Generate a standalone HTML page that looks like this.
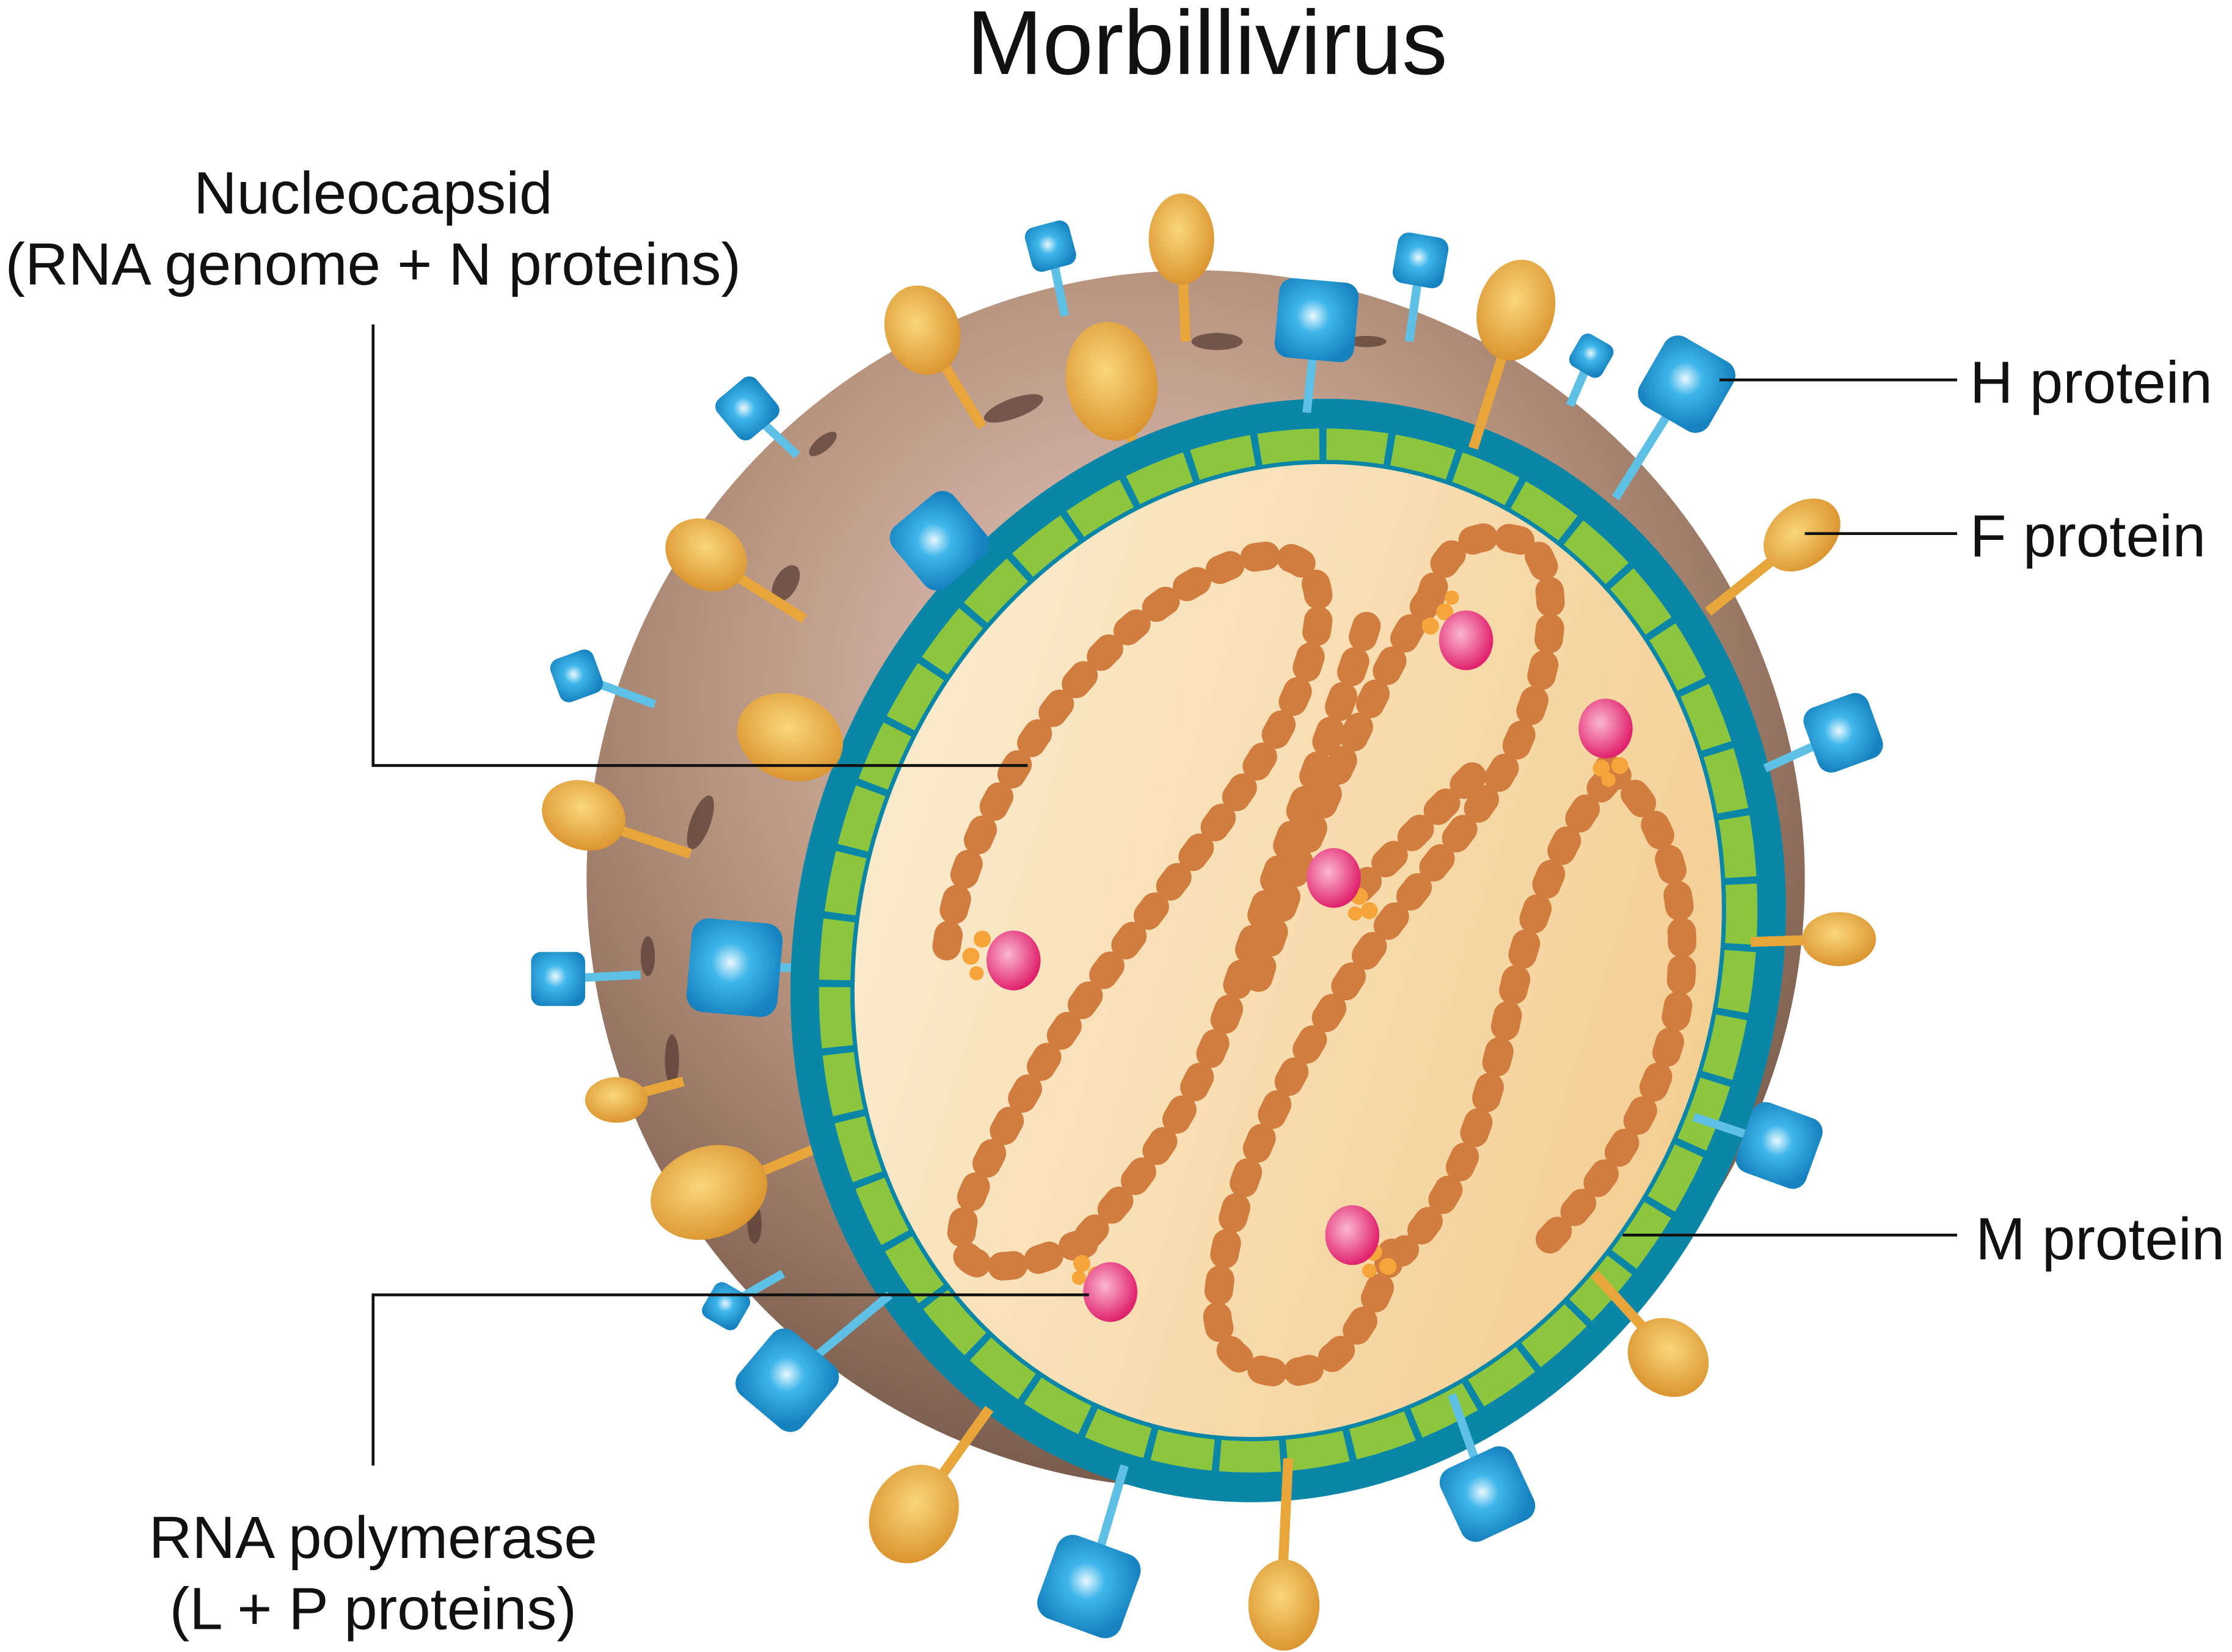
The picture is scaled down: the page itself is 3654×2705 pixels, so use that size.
<!DOCTYPE html>
<html><head><meta charset="utf-8"><style>html,body{margin:0;padding:0;background:#fff}svg{display:block}</style></head><body>
<svg width="3654" height="2705" viewBox="0 0 1568 1161" xmlns="http://www.w3.org/2000/svg" font-family="'Liberation Sans', sans-serif">
<defs>
<radialGradient id="brown" cx="0.45" cy="0.35" r="0.7"><stop offset="0" stop-color="#e2c9c4"/><stop offset="0.5" stop-color="#b8947e"/><stop offset="1" stop-color="#6e5244"/></radialGradient>
<linearGradient id="cream" x1="0" y1="0" x2="1" y2="0"><stop offset="0" stop-color="#fbeacb"/><stop offset="1" stop-color="#f4cf94"/></linearGradient>
<radialGradient id="blue" cx="0.45" cy="0.45" r="0.6"><stop offset="0" stop-color="#e8f8ff"/><stop offset="0.35" stop-color="#3fb6ea"/><stop offset="1" stop-color="#1683c0"/></radialGradient>
<radialGradient id="orange" cx="0.45" cy="0.4" r="0.65"><stop offset="0" stop-color="#f9d77a"/><stop offset="1" stop-color="#d9902a"/></radialGradient>
<radialGradient id="pink" cx="0.4" cy="0.4" r="0.6"><stop offset="0" stop-color="#fbb7cf"/><stop offset="1" stop-color="#e0236e"/></radialGradient>
</defs>
<text x="848" y="52" font-size="64" text-anchor="middle" fill="#111">Morbillivirus</text>

<g stroke="#e8a63a" stroke-width="7">
<line x1="833" y1="240" x2="830" y2="172"/><line x1="690" y1="300" x2="650" y2="235"/><line x1="1035" y1="315" x2="1065" y2="220"/>
</g>
<g stroke="#5fc0e6" stroke-width="6">
<line x1="748" y1="222" x2="738" y2="173"/><line x1="990" y1="240" x2="998" y2="183"/><line x1="918" y1="290" x2="925" y2="225"/><line x1="1103" y1="285" x2="1118" y2="250"/>
</g>

<circle cx="840" cy="618" r="428" fill="url(#brown)"/>
<g fill="#5a3e34" opacity="0.75">
<ellipse cx="712" cy="287" rx="22" ry="7" transform="rotate(-20 712 287)"/><ellipse cx="855" cy="240" rx="18" ry="6"/><ellipse cx="578" cy="312" rx="12" ry="5" transform="rotate(-40 578 312)"/><ellipse cx="552" cy="410" rx="8" ry="14" transform="rotate(30 552 410)"/><ellipse cx="492" cy="578" rx="7" ry="20" transform="rotate(20 492 578)"/><ellipse cx="455" cy="672" rx="5" ry="14"/><ellipse cx="472" cy="745" rx="5" ry="18"/><ellipse cx="530" cy="860" rx="5" ry="14"/><ellipse cx="790" cy="330" rx="14" ry="5"/><ellipse cx="960" cy="240" rx="14" ry="4"/>
</g>
<g stroke="#e8a63a" stroke-width="7">
<line x1="815" y1="360" x2="780" y2="270"/><line x1="565" y1="435" x2="497" y2="392"/><line x1="640" y1="555" x2="555" y2="520"/><line x1="485" y1="600" x2="410" y2="575"/><line x1="480" y1="760" x2="435" y2="772"/><line x1="590" y1="800" x2="500" y2="838"/><line x1="690" y1="300" x2="650" y2="235"/>
</g>
<g stroke="#5fc0e6" stroke-width="6">
<line x1="715" y1="440" x2="660" y2="380"/><line x1="460" y1="495" x2="405" y2="475"/><line x1="590" y1="680" x2="515" y2="680"/><line x1="450" y1="685" x2="392" y2="688"/><line x1="560" y1="320" x2="525" y2="287"/><line x1="550" y1="895" x2="510" y2="918"/>
</g>

<g transform="rotate(18 905 668)">
<ellipse cx="905" cy="668" rx="345" ry="392" fill="#0b86a6"/>
<ellipse cx="905" cy="668" rx="314" ry="360" fill="none" stroke="#8cc63f" stroke-width="22" stroke-dasharray="42 5"/>
<ellipse cx="905" cy="668" rx="300" ry="346" fill="url(#cream)"/>
</g>

<g stroke="#e8a63a" stroke-width="7">
<line x1="1200" y1="430" x2="1265" y2="378"/><line x1="1230" y1="662" x2="1290" y2="660"/><line x1="1120" y1="895" x2="1170" y2="950"/><line x1="695" y1="990" x2="645" y2="1060"/><line x1="905" y1="1025" x2="900" y2="1130"/><line x1="1035" y1="315" x2="1065" y2="220"/><line x1="833" y1="240" x2="830" y2="172"/>
</g>
<g stroke="#5fc0e6" stroke-width="6">
<line x1="1135" y1="350" x2="1185" y2="270"/><line x1="1240" y1="540" x2="1295" y2="515"/><line x1="1190" y1="785" x2="1250" y2="805"/><line x1="625" y1="910" x2="553" y2="970"/><line x1="1020" y1="980" x2="1045" y2="1050"/><line x1="790" y1="1030" x2="765" y2="1115"/><line x1="918" y1="290" x2="925" y2="225"/><line x1="990" y1="240" x2="998" y2="183"/><line x1="748" y1="222" x2="738" y2="173"/><line x1="1103" y1="285" x2="1118" y2="250"/>
</g>

<g fill="url(#blue)">
<rect x="722" y="157" width="32" height="32" rx="7" transform="rotate(-15 738 173)"/>
<rect x="980" y="165" width="36" height="36" rx="8" transform="rotate(10 998 183)"/>
<rect x="897" y="197" width="56" height="56" rx="10" transform="rotate(5 925 225)"/>
<rect x="1105" y="237" width="26" height="26" rx="6" transform="rotate(30 1118 250)"/>
<rect x="1157" y="242" width="56" height="56" rx="11" transform="rotate(30 1185 270)"/>
<rect x="507" y="269" width="36" height="36" rx="7" transform="rotate(-40 525 287)"/>
<rect x="632" y="352" width="56" height="56" rx="11" transform="rotate(-40 660 380)"/>
<rect x="389" y="459" width="32" height="32" rx="7" transform="rotate(-20 405 475)"/>
<rect x="484" y="647" width="64" height="66" rx="12" transform="rotate(5 515 680)"/>
<rect x="373" y="669" width="38" height="38" rx="7"/>
<rect x="1271" y="491" width="48" height="48" rx="10" transform="rotate(-20 1295 515)"/>
<rect x="1224" y="779" width="52" height="52" rx="10" transform="rotate(20 1250 805)"/>
<rect x="496" y="904" width="28" height="28" rx="6" transform="rotate(30 510 918)"/>
<rect x="524" y="941" width="58" height="58" rx="11" transform="rotate(40 553 970)"/>
<rect x="1017" y="1022" width="56" height="56" rx="11" transform="rotate(-25 1045 1050)"/>
<rect x="734" y="1084" width="62" height="62" rx="12" transform="rotate(20 765 1115)"/>
</g>
<g fill="url(#orange)">
<ellipse cx="830" cy="168" rx="23" ry="32"/>
<ellipse cx="648" cy="232" rx="26" ry="32" transform="rotate(-20 648 232)"/>
<ellipse cx="781" cy="268" rx="32" ry="42" transform="rotate(-10 781 268)"/>
<ellipse cx="1065" cy="218" rx="27" ry="36" transform="rotate(15 1065 218)"/>
<ellipse cx="496" cy="390" rx="30" ry="24" transform="rotate(30 496 390)"/>
<ellipse cx="555" cy="518" rx="38" ry="30" transform="rotate(20 555 518)"/>
<ellipse cx="410" cy="573" rx="30" ry="24" transform="rotate(20 410 573)"/>
<ellipse cx="433" cy="773" rx="22" ry="16"/>
<ellipse cx="498" cy="838" rx="42" ry="32" transform="rotate(-20 498 838)"/>
<ellipse cx="1266" cy="376" rx="30" ry="22" transform="rotate(-40 1266 376)"/>
<ellipse cx="1292" cy="660" rx="26" ry="19"/>
<ellipse cx="1172" cy="954" rx="30" ry="26" transform="rotate(40 1172 954)"/>
<ellipse cx="642" cy="1064" rx="30" ry="36" transform="rotate(30 642 1064)"/>
<ellipse cx="902" cy="1128" rx="25" ry="32"/>
</g>

<g fill="none" stroke="#d17d3f" stroke-width="20" stroke-linecap="round" stroke-dasharray="8 18">
<path d="M665 665 C680 560 780 420 880 392 C940 380 935 440 905 500 C865 580 785 660 725 760 C685 830 650 890 700 890 C735 890 755 870 765 875"/>
<path d="M960 440 C935 520 900 600 870 690 C840 780 800 830 765 868"/>
<path d="M1005 420 C1015 380 1040 370 1075 382 C1100 410 1090 470 1065 525 C1035 585 975 640 935 710 C890 780 860 850 855 920 C855 965 905 975 935 955 C960 935 972 900 978 880"/>
<path d="M1005 420 C990 440 975 470 960 500 C930 560 905 620 880 700"/>
<path d="M1130 540 C1170 570 1188 630 1180 700 C1170 770 1130 830 1080 880"/>
<path d="M1130 548 C1100 580 1075 640 1060 710 C1045 780 1025 840 985 880"/>
<path d="M955 625 C990 590 1020 560 1040 540"/>
</g>
<g>
<g fill="#f6a53a"><circle cx="690" cy="660" r="6"/><circle cx="682" cy="672" r="6"/><circle cx="686" cy="684" r="5"/>
<circle cx="1015" cy="430" r="6"/><circle cx="1005" cy="440" r="6"/><circle cx="1020" cy="420" r="5"/>
<circle cx="1125" cy="540" r="6"/><circle cx="1138" cy="538" r="6"/><circle cx="1130" cy="548" r="5"/>
<circle cx="955" cy="630" r="6"/><circle cx="962" cy="640" r="6"/><circle cx="952" cy="642" r="5"/>
<circle cx="965" cy="880" r="6"/><circle cx="975" cy="890" r="6"/><circle cx="962" cy="893" r="5"/>
<circle cx="760" cy="888" r="6"/><circle cx="770" cy="896" r="6"/><circle cx="758" cy="898" r="5"/></g>
<g fill="url(#pink)"><ellipse cx="712" cy="675" rx="19" ry="21"/><ellipse cx="1030" cy="450" rx="19" ry="21"/><ellipse cx="1128" cy="512" rx="19" ry="21"/><ellipse cx="937" cy="617" rx="19" ry="21"/><ellipse cx="950" cy="868" rx="19" ry="21"/><ellipse cx="780" cy="908" rx="19" ry="21"/></g>
</g>

<g stroke="#111" stroke-width="2" fill="none">
<polyline points="262,228 262,538 722,538"/>
<polyline points="262,1030 262,910 765,910"/>
<line x1="1208" y1="267" x2="1375" y2="267"/>
<line x1="1268" y1="375" x2="1375" y2="375"/>
<line x1="1140" y1="868" x2="1375" y2="868"/>
</g>
<g font-size="42" fill="#111">
<text x="262" y="150" text-anchor="middle">Nucleocapsid</text>
<text x="262" y="200" text-anchor="middle">(RNA genome + N proteins)</text>
<text x="262" y="1095" text-anchor="middle">RNA polymerase</text>
<text x="262" y="1145" text-anchor="middle">(L + P proteins)</text>
<text x="1384" y="283">H protein</text>
<text x="1384" y="391">F protein</text>
<text x="1388" y="885">M protein</text>
</g>
</svg>
</body></html>
